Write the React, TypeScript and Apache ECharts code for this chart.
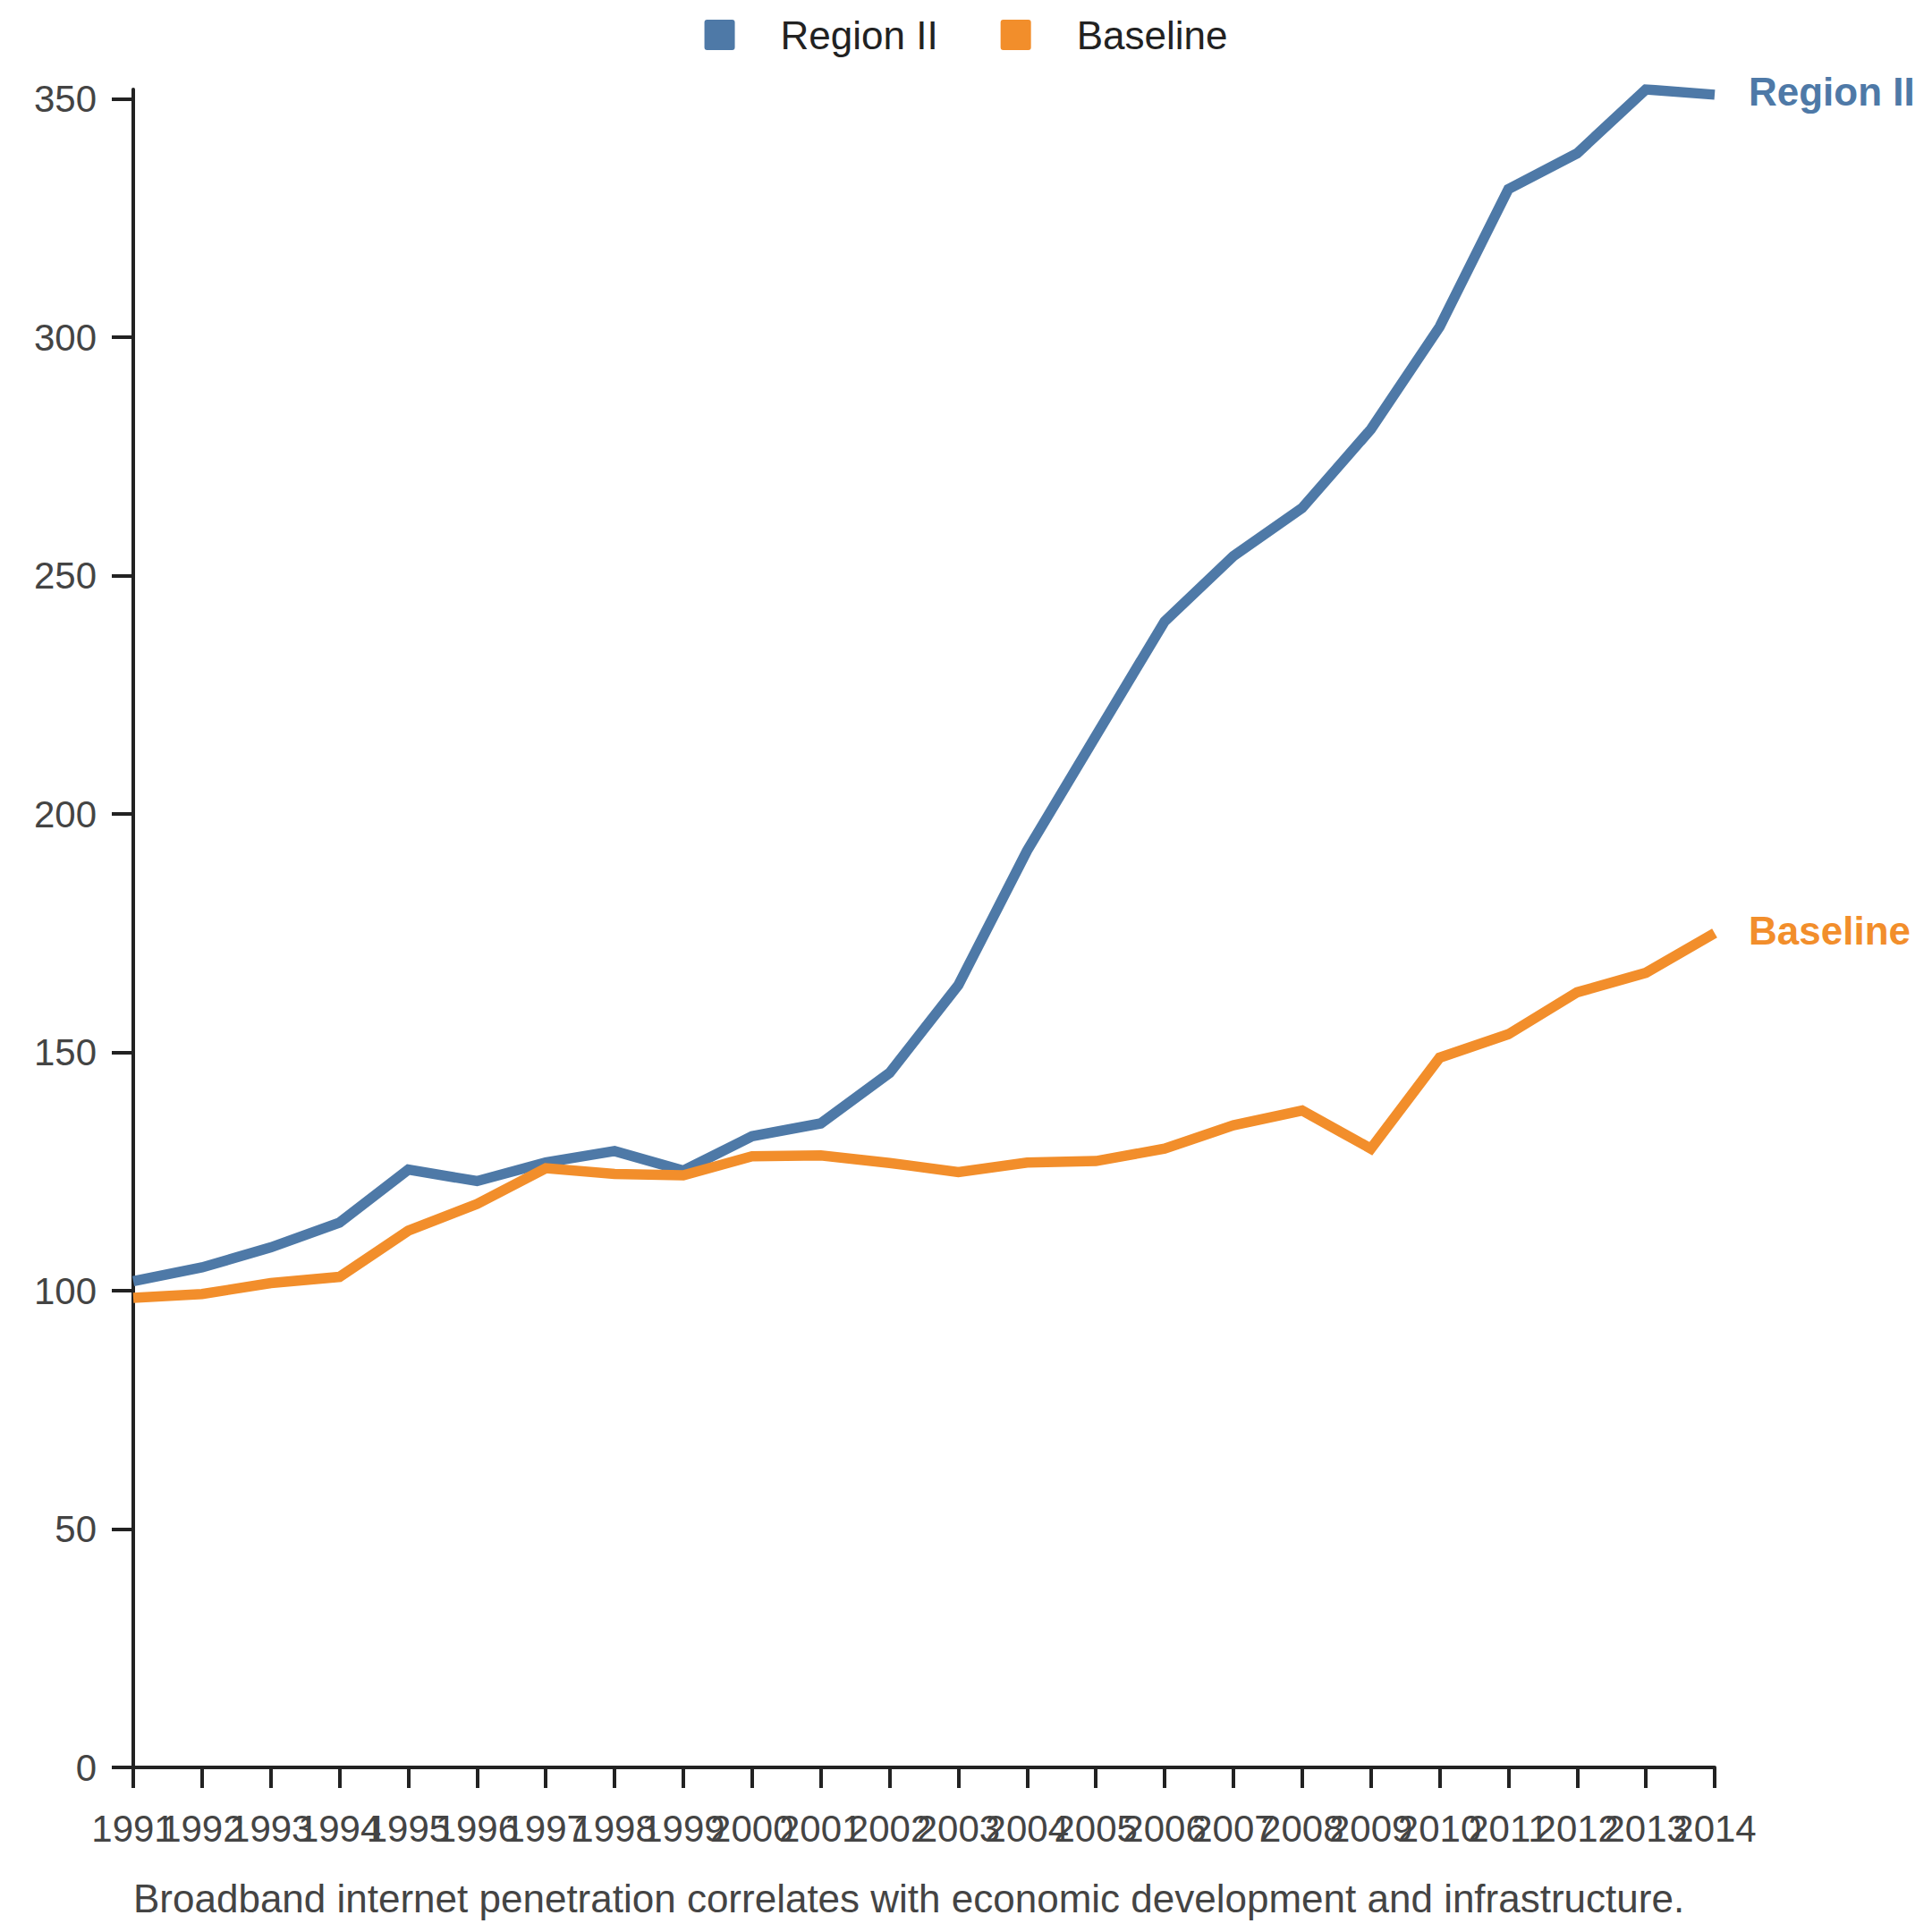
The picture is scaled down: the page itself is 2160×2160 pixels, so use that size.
import React, { useEffect, useRef } from "react";
import * as echarts from "echarts";

const years = [
  "1991", "1992", "1993", "1994", "1995", "1996", "1997", "1998", "1999", "2000",
  "2001", "2002", "2003", "2004", "2005", "2006", "2007", "2008", "2009", "2010",
  "2011", "2012", "2013", "2014",
];
const regionII = [
  102.0, 104.9, 109.1, 114.3, 125.4, 123.0, 126.9, 129.3, 125.2, 132.4,
  135.1, 145.7, 164.1, 192.3, 216.4, 240.4, 254.1, 264.2, 280.7, 302.2,
  331.1, 338.6, 352.0, 350.9,
];
const baseline = [
  98.5, 99.3, 101.6, 102.9, 112.6, 118.2, 125.7, 124.5, 124.2, 128.2,
  128.4, 126.8, 124.9, 126.9, 127.2, 129.8, 134.7, 137.8, 129.8, 148.9,
  153.8, 162.6, 166.7, 175.0,
];
const yTicks = [0, 50, 100, 150, 200, 250, 300, 350];
const seriesNames = ["Region II", "Baseline"];
const colors = ["#4e79a7", "#f28e2b"];
const caption =
  "Broadband internet penetration correlates with economic development and infrastructure.";

const FONT = "'Liberation Sans', Arial, Helvetica, sans-serif";

export default function App() {
  const ref = useRef<HTMLDivElement>(null);
  useEffect(() => {
    document.body.style.margin = "0";
    if (!ref.current) return;
    const chart = echarts.init(ref.current, undefined, { renderer: "svg" });
    const iconPath =
      "path://M3,0 h28 a3,3 0 0 1 3,3 v28 a3,3 0 0 1 -3,3 h-28 a3,3 0 0 1 -3,-3 v-28 a3,3 0 0 1 3,-3z";
    const mkSeries = (name: string, data: number[], color: string) => ({
      name,
      type: "line",
      data,
      symbol: "none",
      color,
      lineStyle: { width: 11.5, color, join: "miter", cap: "butt" },
      endLabel: {
        show: true,
        formatter: "{a}",
        color,
        fontSize: 44,
        fontWeight: "bold",
        fontFamily: FONT,
        distance: 38,
        offset: [0, -3],
      },
      emphasis: { disabled: true },
    });
    chart.setOption({
      animation: false,
      textStyle: { fontFamily: FONT },
      legend: {
        top: 12,
        left: "center",
        icon: iconPath,
        itemWidth: 34,
        itemHeight: 34,
        itemGap: 70,
        data: seriesNames,
        textStyle: {
          fontSize: 44,
          color: "#222",
          fontFamily: FONT,
          padding: [0, 0, 0, 46],
        },
      },
      grid: { left: 149, right: 243, top: 100, bottom: 184, containLabel: false },
      xAxis: {
        type: "category",
        data: years,
        boundaryGap: false,
        axisLine: { show: true, lineStyle: { color: "#222", width: 4 } },
        axisTick: {
          show: true,
          alignWithLabel: true,
          length: 23,
          lineStyle: { color: "#222", width: 4 },
        },
        axisLabel: {
          interval: 0,
          fontSize: 42,
          color: "#444",
          fontFamily: FONT,
          margin: 47,
        },
        splitLine: { show: false },
      },
      yAxis: {
        type: "value",
        min: 0,
        max: "dataMax",
        axisLine: { show: true, lineStyle: { color: "#222", width: 4 } },
        axisTick: {
          show: true,
          length: 24,
          customValues: yTicks,
          lineStyle: { color: "#222", width: 4 },
        },
        axisLabel: {
          fontSize: 42,
          color: "#444",
          fontFamily: FONT,
          margin: 41,
          customValues: yTicks,
        },
        splitLine: { show: false },
      },
      graphic: [
        {
          type: "text",
          left: 149,
          top: 2100,
          style: {
            text: caption,
            fontSize: 44,
            fontFamily: FONT,
            fill: "#444",
          },
        },
      ],
      series: [
        mkSeries(seriesNames[0], regionII, colors[0]),
        mkSeries(seriesNames[1], baseline, colors[1]),
      ],
    });
    return () => chart.dispose();
  }, []);
  return <div ref={ref} style={{ width: 2160, height: 2160 }} />;
}
